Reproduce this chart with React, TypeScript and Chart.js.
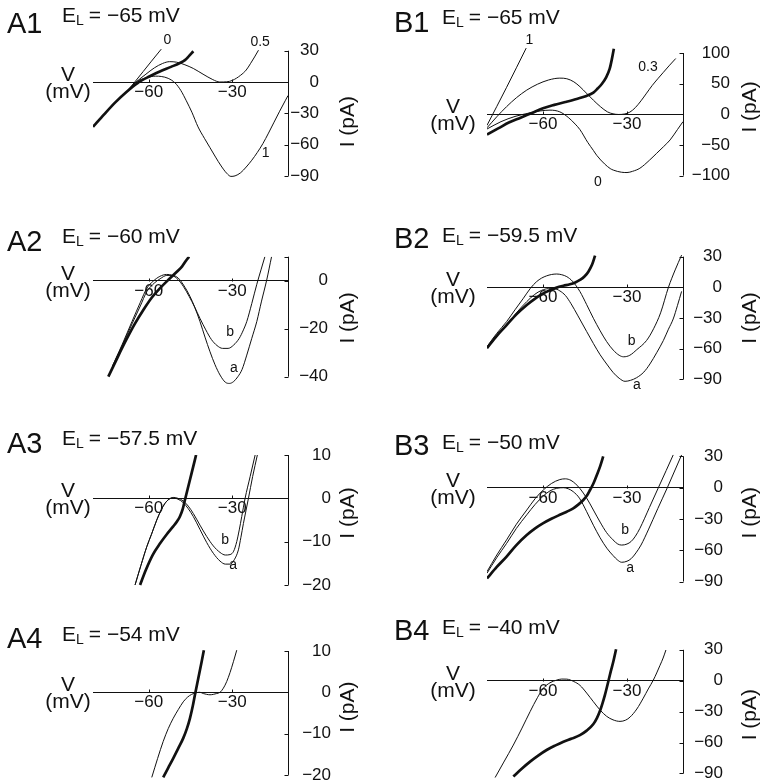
import React, { useEffect, useRef } from 'react';
import { Chart, registerables } from 'chart.js';

Chart.register(...registerables);

type Pt = [number, number];

// ---------- shared axis values ----------
const X_MIN = -80;
const X_MAX = -10;
const X_TICKS = [-60, -30];
const EL_VALUES = [-65, -65, -60, -59.5, -57.5, -50, -54, -40];
const PANEL_NAMES = ['A1', 'B1', 'A2', 'B2', 'A3', 'B3', 'A4', 'B4'];

const TICKS_A1 = [30, 0, -30, -60, -90];
const TICKS_B1 = [100, 50, 0, -50, -100];
const TICKS_A2 = [0, -20, -40];
const TICKS_A3 = [10, 0, -10, -20];
const TICKS_A4 = [10, 0, -10, -20];
const TICKS_B = [30, 0, -30, -60, -90];

// ---------- A1 (E_L = -65 mV) ----------
const A1_thick: Pt[] = [[-80, -43], [-76, -31], [-72, -19.5], [-68, -9.5], [-64, -1], [-60, 5], [-56, 10], [-52, 14.5], [-49, 18], [-47, 21], [-45.5, 25], [-44, 29.5]];
const A1_g0: Pt[] = [[-68, -9.5], [-65, 0], [-62, 10], [-59, 20], [-55.5, 31.5]];
const A1_g05: Pt[] = [[-68, -9.5], [-64.5, 0], [-61, 7.5], [-58, 13.5], [-55, 17.8], [-52.5, 19.5], [-50, 19], [-47, 16.5], [-44, 13], [-40.5, 7.5], [-37, 2.3], [-34.5, 0], [-32, 0.2], [-30, 1.5], [-27, 6.5], [-25, 11.5], [-23.5, 17.5], [-22, 24], [-20.6, 30.5]];
const A1_g1: Pt[] = [[-68, -9.5], [-64.5, 0], [-61, 4], [-57.5, 5.6], [-55.5, 5.3], [-53, 3.5], [-50.5, -1], [-48.5, -8], [-46.5, -18], [-44.5, -29], [-42.3, -43], [-40, -54], [-38, -63], [-36, -72], [-34, -80.5], [-32, -87.5], [-30.5, -90.5], [-29, -90], [-27, -87], [-25, -81.5], [-23, -75], [-21, -67.5], [-19, -59], [-17, -49], [-15, -38.5], [-13, -28], [-11, -18], [-10, -13]];

// ---------- B1 (E_L = -65 mV) ----------
const B1_thick: Pt[] = [[-80, -33], [-76, -23], [-72, -13], [-68, -5.5], [-64, 2.2], [-60, 9.8], [-56, 15.3], [-52, 20], [-48, 25], [-44.5, 30], [-42, 35.5], [-40.5, 42], [-39, 49.5], [-37.5, 60], [-36.2, 74], [-35.4, 90], [-34.7, 107]];
const B1_g1: Pt[] = [[-80, -18], [-73, 44], [-66, 108]];
const B1_g03: Pt[] = [[-80, -22], [-76.5, -4], [-73, 12.5], [-69.5, 27], [-65.8, 39.5], [-62, 49], [-58, 56], [-54, 59], [-51.5, 58], [-49, 53], [-46.8, 45], [-44.5, 34.5], [-42, 23], [-39.5, 12.5], [-37, 4], [-35, 0.8], [-33, -0.3], [-31, 0.4], [-29, 3.5], [-27, 11], [-25, 22], [-23, 34.5], [-21, 47], [-19, 58], [-17, 68.5], [-15, 79], [-12.6, 91]];
const B1_g0: Pt[] = [[-80, -24], [-75, -12], [-70, -3.5], [-65, 2], [-61, 5.5], [-57.5, 6.8], [-54, 4], [-51, -5], [-48.5, -16], [-46.8, -25], [-44, -46], [-42, -59], [-40.8, -67], [-38, -81], [-36, -88.5], [-34.9, -91], [-32, -94.5], [-30, -95], [-28, -93], [-25.4, -88], [-22, -75], [-19.4, -63.6], [-17, -53], [-14.6, -41.8], [-12, -25], [-10, -12]];

// ---------- A2 (E_L = -60 mV) ----------
const A2_thick: Pt[] = [[-74.5, -40], [-71, -31.5], [-68, -24.5], [-65, -18], [-62, -12.3], [-59, -7.2], [-56, -3.2], [-53, 0.3], [-50, 3.6], [-48, 6], [-46.5, 8.5], [-45.5, 10]];
const A2_a: Pt[] = [[-73, -36], [-69.5, -27], [-66, -18], [-63, -10.5], [-60.7, -4.6], [-58, -1], [-55.9, 0.8], [-53.5, 2.2], [-51.5, 2.2], [-49.5, 1.2], [-47.5, -1.8], [-45.2, -6.5], [-43.5, -11], [-41.6, -17], [-39.8, -23.5], [-38, -29.6], [-36.2, -35], [-34.4, -39.3], [-32.5, -42.3], [-31, -42.8], [-29.5, -42], [-28, -40], [-26.5, -37], [-24.8, -31], [-23, -24], [-21.2, -17], [-19.5, -8.5], [-17.7, 0], [-15.9, 10]];
const A2_b: Pt[] = [[-73, -35.5], [-69.5, -26.5], [-66, -17], [-63, -9], [-60.7, -3.2], [-58.5, -0.3], [-56, 1.8], [-53.6, 2.6], [-51.5, 2.2], [-49.5, 0.5], [-47.5, -2.5], [-45.5, -6.5], [-43.5, -11], [-41.6, -15.7], [-39.5, -20.5], [-37.5, -24.5], [-35.5, -27], [-33.5, -28.2], [-31.5, -28.2], [-29.5, -26.8], [-27.5, -24], [-26, -20.5], [-24.8, -17], [-23, -9.5], [-21.2, -1.5], [-19.7, 4.5], [-18.3, 10]];

// ---------- B2 (E_L = -59.5 mV) ----------
const B2_thick: Pt[] = [[-80, -59.5], [-76.5, -47.5], [-73, -37], [-69.5, -26.5], [-65.8, -17.3], [-62.8, -11], [-59.9, -6], [-57.5, -2.8], [-55.1, -0.3], [-52.7, 1.5], [-50.4, 3], [-48.5, 4.8], [-46.8, 7.2], [-45.2, 10.5], [-43.8, 15.3], [-42.5, 22], [-41.4, 31]];
const B2_a: Pt[] = [[-80, -60], [-76.5, -48], [-73, -37], [-69.5, -25], [-65.8, -14], [-63, -7], [-60.5, -3], [-58, -1.3], [-56, -1.3], [-54, -3.5], [-52, -8], [-50, -16], [-47.5, -28], [-44.4, -43.3], [-42, -55], [-39.6, -66], [-37, -76], [-34.9, -83.5], [-32.8, -89], [-30.7, -92], [-28.7, -91], [-26.6, -88.5], [-24, -83], [-21.8, -75], [-19.4, -64], [-17, -52], [-15.2, -41], [-13.5, -31], [-12, -18], [-10.5, -4]];
const B2_b: Pt[] = [[-80, -58], [-76.5, -45], [-73, -33.6], [-70, -22], [-67, -10.7], [-64.5, -1], [-62.3, 5.5], [-60.5, 9], [-58.7, 11.2], [-57, 12.5], [-55.1, 13], [-53.3, 12.3], [-51.5, 10.4], [-49.5, 6], [-46.8, -4.2], [-44.4, -17], [-42, -30.3], [-39.7, -42], [-37.3, -53], [-34.9, -61.5], [-32.8, -66.5], [-31.2, -68], [-29, -66.5], [-26.5, -61], [-23, -52], [-20.5, -40.5], [-18, -25], [-15.2, 0], [-12.8, 17], [-10.5, 31.5]];

// ---------- A3 (E_L = -57.5 mV) ----------
const A3_thick: Pt[] = [[-63.1, -20], [-61, -16.5], [-58.5, -13], [-55.9, -10.4], [-53.5, -8.3], [-51.2, -6.5], [-49.8, -5.3], [-48.8, -4.2], [-47.8, -2.5], [-47, -0.4], [-46, 2.2], [-44.6, 5.8], [-43, 10]];
const A3_a: Pt[] = [[-64.9, -20], [-62.8, -15.5], [-60.7, -11.2], [-59, -8.3], [-57.1, -5], [-55.6, -2.8], [-54.2, -1.2], [-52.7, -0.2], [-51.2, 0.1], [-49.5, -0.2], [-47.6, -1], [-45.8, -2.4], [-44, -4.2], [-41.6, -7.2], [-39.2, -10.2], [-36.8, -12.7], [-34.4, -14.5], [-32.5, -15.2], [-30.8, -15.2], [-29.3, -14.2], [-27.8, -11.9], [-26.9, -9], [-26, -5.8], [-25.1, -2.9], [-24.2, 0], [-22.7, 5], [-21, 10]];
const A3_b: Pt[] = [[-64.9, -20], [-62.8, -15.5], [-60.7, -11.2], [-59, -8.3], [-57.1, -5], [-55.6, -2.8], [-54.2, -1.2], [-52.7, -0.2], [-51.2, 0.2], [-49.5, 0], [-47.6, -0.6], [-45.8, -1.8], [-44, -3.5], [-41.6, -6.2], [-39.2, -8.8], [-36.8, -11], [-34.4, -12.5], [-32.5, -13.1], [-30.8, -13], [-29.5, -12.2], [-28.4, -10], [-27.5, -7.3], [-26.6, -4.2], [-25.4, 0], [-23.6, 5], [-21.8, 10]];

// ---------- B3 (E_L = -50 mV) ----------
const B3_thick: Pt[] = [[-80, -87], [-76.5, -76], [-73, -66], [-69.5, -55], [-65.8, -45.4], [-62.8, -39], [-59.9, -34], [-57, -29.8], [-54, -26], [-51.5, -23], [-49.2, -19.8], [-47.3, -16], [-45.6, -11.8], [-44.3, -7.5], [-43.2, -2.2], [-42, 4], [-40.8, 12], [-39.6, 20.5], [-38.5, 30]];
const B3_a: Pt[] = [[-80, -82], [-76.5, -67], [-73, -53.4], [-69.5, -39], [-65.8, -26], [-62.8, -16], [-59.9, -8], [-57.5, -3], [-55.1, -0.6], [-52.7, 0], [-51, -1], [-49.2, -3.8], [-47, -10], [-44.4, -23], [-42, -36], [-39.6, -48], [-37.2, -58], [-35, -65], [-33.3, -69.5], [-31.9, -71.5], [-30, -70.5], [-28.5, -68], [-26.8, -62.5], [-25, -55], [-22.4, -40.5], [-19, -20], [-15.6, 0], [-13, 16], [-10.5, 31.4]];
const B3_b: Pt[] = [[-80, -80.5], [-76.5, -64.5], [-73, -50], [-69.5, -35], [-65.8, -21.4], [-62.8, -10.5], [-59.9, -2.2], [-57, 4], [-54, 7.8], [-52, 8.5], [-50, 7], [-48.3, 3.5], [-46.8, -0.8], [-44.4, -10], [-42, -21.4], [-39.6, -33], [-37.3, -43], [-35, -50], [-33.3, -54], [-31.9, -55], [-30, -54], [-28.5, -51.5], [-27, -46.5], [-25.4, -39], [-22, -19], [-18.8, 0], [-16, 16.5], [-13.5, 31.4]];

// ---------- A4 (E_L = -54 mV) ----------
const A4_thick: Pt[] = [[-54.8, -20.6], [-53, -18.3], [-51.2, -16], [-49.4, -13.6], [-47.6, -11.1], [-46.3, -8.8], [-45.2, -6.3], [-44.2, -3.4], [-43.4, -0.6], [-42.2, 3.4], [-41, 7.4], [-40.2, 10.2]];
const A4_thin: Pt[] = [[-58.9, -20.6], [-56.8, -16], [-54.8, -11.9], [-53, -8.8], [-51.2, -6.3], [-49.4, -4.2], [-47.6, -2.3], [-46.1, -1.2], [-44.6, -0.5], [-43, -0.1], [-41.6, 0], [-40.4, -0.3], [-39.2, -0.5], [-38, -0.6], [-36.8, -0.5], [-35.6, -0.3], [-34.4, 0], [-33.2, 1], [-32, 2.6], [-30.8, 4.8], [-29.6, 7.4], [-28.4, 10.2]];

// ---------- B4 (E_L = -40 mV) ----------
const B4_thick: Pt[] = [[-70.6, -93], [-67.6, -85.5], [-64.6, -78.6], [-61.6, -72.5], [-58.7, -67.3], [-55.7, -63], [-52.7, -59.2], [-49.7, -56.2], [-46.8, -52.8], [-44.4, -48.5], [-42, -42], [-40.7, -36], [-39.6, -29], [-38.7, -21.5], [-37.9, -14], [-36.7, -1], [-35.8, 9], [-34.9, 18.4], [-33.9, 30.5]];
const B4_thin: Pt[] = [[-77.1, -94], [-74, -79], [-70.6, -62.5], [-67.5, -46], [-64.6, -30], [-62, -16.5], [-59.9, -7.4], [-57.5, -2], [-55.1, 0.6], [-53.3, 1.6], [-51.5, 1.5], [-49, -0.8], [-46.8, -4.5], [-44.4, -12], [-42, -20.4], [-39.6, -28.5], [-37.3, -34.5], [-35, -38], [-32.5, -39.5], [-30.5, -38.3], [-28.9, -35.3], [-26.5, -27.5], [-24.2, -17], [-22.4, -8], [-20.6, 0.6], [-19.4, 7.5], [-18.2, 15], [-17.1, 22], [-16.1, 29.8]];

// ---------- layout / style ----------
const W = 760;
const H = 782;
const FONT = '"Liberation Sans", Arial, Helvetica, sans-serif';
const INK = '#111';

interface Curve { data: Pt[]; thick?: boolean }
interface Label { text: string; v: number; i: number }
interface Panel {
  idx: number;
  left: number; right: number; zeroY: number; k: number;
  yMin: number; yMax: number; axisMin: number; axisMax: number;
  yTicks: number[]; axisW: number; iY: number; iDx: number; vDx: number;
  nameX: number; nameBase: number; elX: number; elBase: number;
  curves: Curve[]; labels: Label[];
}

const colA = { left: 93, right: 288, iDx: 60, vDx: 25, nameX: 7, elX: 62 };
const colB = { left: 487, right: 683, iDx: 67, vDx: 34, nameX: 394, elX: 442 };

const PANELS: Panel[] = [
  { idx: 0, ...colA, zeroY: 82, k: 1.043, yMin: -93, yMax: 36, axisMin: -90, axisMax: 30, yTicks: TICKS_A1, axisW: 31, iY: -38, nameBase: 33, elBase: 22,
    curves: [{ data: A1_g0 }, { data: A1_g05 }, { data: A1_g1 }, { data: A1_thick, thick: true }],
    labels: [{ text: '0', v: -53.3, i: 40 }, { text: '0.5', v: -20, i: 38.5 }, { text: '1', v: -18, i: -68 }] },
  { idx: 1, ...colB, zeroY: 114.3, k: 0.613, yMin: -105, yMax: 110, axisMin: -100, axisMax: 100, yTicks: TICKS_B1, axisW: 47, iY: 12, nameBase: 32, elBase: 24,
    curves: [{ data: B1_g1 }, { data: B1_g03 }, { data: B1_g0 }, { data: B1_thick, thick: true }],
    labels: [{ text: '1', v: -64.9, i: 121 }, { text: '0.3', v: -22.5, i: 77 }, { text: '0', v: -40.4, i: -110 }] },
  { idx: 2, ...colA, zeroY: 280.7, k: 2.4, yMin: -44, yMax: 10, axisMin: -40, axisMax: 10, yTicks: TICKS_A2, axisW: 40, iY: -15.5, nameBase: 251, elBase: 243,
    curves: [{ data: A2_a }, { data: A2_b }, { data: A2_thick, thick: true }],
    labels: [{ text: 'b', v: -30.8, i: -21.3 }, { text: 'a', v: -29.4, i: -36.4 }] },
  { idx: 3, ...colB, zeroY: 287.3, k: 1.022, yMin: -95, yMax: 32, axisMin: -90, axisMax: 30, yTicks: TICKS_B, axisW: 39, iY: -30, nameBase: 248, elBase: 242,
    curves: [{ data: B2_a }, { data: B2_b }, { data: B2_thick, thick: true }],
    labels: [{ text: 'b', v: -28.3, i: -53 }, { text: 'a', v: -26.5, i: -96 }] },
  { idx: 4, ...colA, zeroY: 498.3, k: 4.33, yMin: -20.5, yMax: 10, axisMin: -20, axisMax: 10, yTicks: TICKS_A3, axisW: 43, iY: -3.4, nameBase: 453, elBase: 445,
    curves: [{ data: A3_a }, { data: A3_b }, { data: A3_thick, thick: true }],
    labels: [{ text: 'b', v: -32.6, i: -9.6 }, { text: 'a', v: -29.7, i: -15.4 }] },
  { idx: 5, ...colB, zeroY: 487.7, k: 1.043, yMin: -92, yMax: 32, axisMin: -90, axisMax: 30, yTicks: TICKS_B, axisW: 40, iY: -24, nameBase: 455, elBase: 449,
    curves: [{ data: B3_a }, { data: B3_b }, { data: B3_thick, thick: true }],
    labels: [{ text: 'b', v: -30.7, i: -40.5 }, { text: 'a', v: -28.9, i: -77.3 }] },
  { idx: 6, ...colA, zeroY: 692.3, k: 4.13, yMin: -20.8, yMax: 10.3, axisMin: -20, axisMax: 10, yTicks: TICKS_A4, axisW: 43, iY: -3.6, nameBase: 648, elBase: 641,
    curves: [{ data: A4_thin }, { data: A4_thick, thick: true }], labels: [] },
  { idx: 7, ...colB, zeroY: 680.7, k: 1.03, yMin: -95, yMax: 31, axisMin: -90, axisMax: 30, yTicks: TICKS_B, axisW: 40, iY: -33, nameBase: 640, elBase: 634,
    curves: [{ data: B4_thin }, { data: B4_thick, thick: true }], labels: [] },
];

const fmt = (v: number | string) => String(v).replace('-', '\u2212');

const decorPlugin = {
  id: 'decor',
  afterDraw(chart: any, _args: any, opts: any) {
    const p: Panel = opts.panel;
    if (!p) return;
    const { ctx, chartArea } = chart;
    const xs = chart.scales.x;
    const ys = chart.scales.y;
    ctx.save();
    ctx.strokeStyle = INK;
    ctx.lineWidth = 1;
    const ax = Math.round(xs.getPixelForValue(X_MAX)) + 0.5;
    ctx.beginPath();
    ctx.moveTo(ax, ys.getPixelForValue(p.axisMin));
    ctx.lineTo(ax, ys.getPixelForValue(p.axisMax));
    const marks = Array.from(new Set([...p.yTicks, p.axisMin, p.axisMax]));
    for (const t of marks) {
      const py = Math.round(ys.getPixelForValue(t)) + 0.5;
      ctx.moveTo(ax - 4, py);
      ctx.lineTo(ax, py);
    }
    const y0 = Math.round(ys.getPixelForValue(0)) + 0.5;
    for (const t of X_TICKS) {
      const px = Math.round(xs.getPixelForValue(t)) + 0.5;
      ctx.moveTo(px, y0);
      ctx.lineTo(px, y0 - 3);
    }
    ctx.stroke();

    ctx.fillStyle = INK;
    ctx.textAlign = 'center';
    ctx.textBaseline = 'alphabetic';
    ctx.font = `21px ${FONT}`;
    const vx = chartArea.left - p.vDx;
    const zy = ys.getPixelForValue(0);
    ctx.fillText('V', vx, zy - 1);
    ctx.fillText('(mV)', vx, zy + 16);

    ctx.save();
    ctx.translate(chartArea.right + p.iDx, ys.getPixelForValue(p.iY));
    ctx.rotate(-Math.PI / 2);
    ctx.textBaseline = 'middle';
    ctx.fillText('I (pA)', 0, 0);
    ctx.restore();

    ctx.font = `14px ${FONT}`;
    ctx.textBaseline = 'middle';
    for (const l of p.labels) {
      ctx.fillText(l.text, xs.getPixelForValue(l.v), ys.getPixelForValue(l.i));
    }

    ctx.textAlign = 'left';
    ctx.textBaseline = 'alphabetic';
    ctx.font = `29px ${FONT}`;
    ctx.fillText(PANEL_NAMES[p.idx], p.nameX, p.nameBase);
    ctx.font = `21px ${FONT}`;
    ctx.fillText('E', p.elX, p.elBase);
    let w = ctx.measureText('E').width;
    ctx.font = `14px ${FONT}`;
    ctx.fillText('L', p.elX + w, p.elBase + 3);
    w += ctx.measureText('L').width;
    ctx.font = `21px ${FONT}`;
    ctx.fillText(`= ${fmt(EL_VALUES[p.idx])} mV`, p.elX + w + 5, p.elBase);
    ctx.restore();
  },
};

function PanelChart({ p }: { p: Panel }) {
  const ref = useRef<HTMLCanvasElement | null>(null);
  useEffect(() => {
    if (!ref.current) return;
    const top = p.zeroY - p.yMax * p.k;
    const bottom = p.zeroY - p.yMin * p.k;
    const chart = new Chart(ref.current, {
      type: 'line',
      data: {
        datasets: p.curves.map((c) => ({
          data: c.data.map(([x, y]) => ({ x, y })),
          borderColor: INK,
          borderWidth: c.thick ? 2.7 : 1,
          pointRadius: 0,
          pointHoverRadius: 0,
          fill: false,
          cubicInterpolationMode: 'monotone' as const,
        })),
      },
      options: {
        responsive: false,
        maintainAspectRatio: false,
        animation: false,
        events: [],
        layout: { padding: { left: p.left, right: W - p.right - p.axisW, top, bottom: H - bottom } },
        plugins: {
          legend: { display: false },
          tooltip: { enabled: false },
          // @ts-ignore
          decor: { panel: p },
        },
        scales: {
          x: {
            type: 'linear',
            min: X_MIN,
            max: X_MAX,
            position: { y: 0 } as any,
            grid: { display: false, drawTicks: false },
            border: { display: true, color: INK, width: 1 },
            ticks: { font: { family: FONT, size: 17 }, color: INK, padding: 0, maxRotation: 0, autoSkip: false, callback: (v: any) => fmt(v) },
            afterBuildTicks: (axis: any) => { axis.ticks = X_TICKS.map((value) => ({ value })); },
            afterFit: (axis: any) => { axis.height = 0; axis.paddingLeft = 0; axis.paddingRight = 0; },
          },
          y: {
            type: 'linear',
            position: 'right',
            min: p.yMin,
            max: p.yMax,
            grid: { display: false, drawTicks: false },
            border: { display: false },
            ticks: { font: { family: FONT, size: 17 }, color: INK, padding: 2, crossAlign: 'far', autoSkip: false, callback: (v: any) => fmt(v) },
            afterBuildTicks: (axis: any) => { axis.ticks = p.yTicks.map((value) => ({ value })); },
            afterFit: (axis: any) => { axis.width = p.axisW; axis.paddingTop = 0; axis.paddingBottom = 0; },
          },
        },
      } as any,
      plugins: [decorPlugin],
    });
    return () => chart.destroy();
  }, [p]);
  return (
    <canvas
      ref={ref}
      width={W}
      height={H}
      style={{ position: 'absolute', left: 0, top: 0, width: W, height: H }}
    />
  );
}

export default function App() {
  return (
    <div style={{ position: 'absolute', left: 0, top: 0, width: W, height: H, background: '#fff', overflow: 'hidden' }}>
      {PANELS.map((p) => (
        <PanelChart key={p.idx} p={p} />
      ))}
    </div>
  );
}
